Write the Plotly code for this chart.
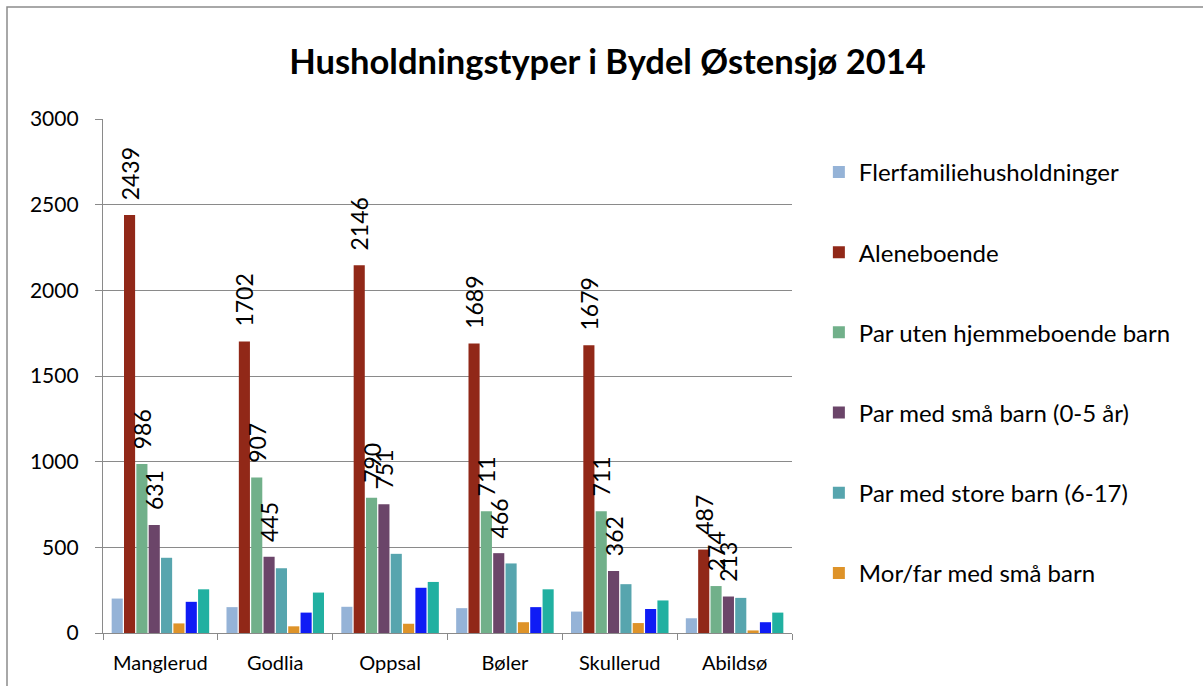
import plotly.graph_objects as go

categories = ["Manglerud", "Godlia", "Oppsal", "Bøler", "Skullerud", "Abildsø"]

series_names = [
    "Flerfamiliehusholdninger",
    "Aleneboende",
    "Par uten hjemmeboende barn",
    "Par med små barn (0-5 år)",
    "Par med store barn (6-17)",
    "Mor/far med små barn",
    "Mor/far med store barn",
    "Andre",
]

flerfamilie = [201, 151, 153, 145, 125, 86]
aleneboende = [2439, 1702, 2146, 1689, 1679, 487]
par_uten = [986, 907, 790, 711, 711, 274]
par_sma = [631, 445, 751, 466, 362, 213]
par_store = [439, 378, 462, 406, 285, 205]
morfar_sma = [56, 39, 54, 63, 58, 15]
morfar_store = [182, 119, 264, 151, 140, 63]
andre = [255, 236, 298, 255, 190, 119]

values = [flerfamilie, aleneboende, par_uten, par_sma, par_store, morfar_sma, morfar_store, andre]
colors = ["#95B3D7", "#912818", "#71B08A", "#6B4569", "#57A5AE", "#DE9329", "#0F1CF5", "#21B0A1"]
labeled = [False, True, True, True, False, False, False, False]
in_legend = [True, True, True, True, True, True, False, False]

font_family = "Lato, 'Open Sans', sans-serif"
grid_col = "#8A8A8A"

fig = go.Figure()
for i, (name, vals, col) in enumerate(zip(series_names, values, colors)):
    fig.add_trace(go.Bar(
        x=categories, y=vals, name=name,
        marker=dict(color=col, line=dict(width=0)),
        text=["\u00a0\u00a0" + str(v) for v in vals] if labeled[i] else None,
        textposition="outside" if labeled[i] else "none",
        textangle=-90,
        textfont=dict(size=23, color="black", family=font_family),
        constraintext="none",
        cliponaxis=False,
        showlegend=in_legend[i],
        legendgroup="g%d" % i,
    ))

fig.update_layout(
    width=1203, height=686,
    paper_bgcolor="white", plot_bgcolor="white",
    margin=dict(l=103, r=411, t=119, b=53),
    barmode="group", bargap=0.14, bargroupgap=0.1,
    font=dict(family=font_family, color="black"),
    title=dict(text="<b>Husholdningstyper i Bydel Østensjø 2014</b>",
               x=0.505, xanchor="center", y=0.91, yanchor="middle",
               font=dict(size=34.5, family=font_family, color="black")),
    legend=dict(x=1.039, y=0.94, xanchor="left", yanchor="top",
                font=dict(size=24, family=font_family, color="black"),
                tracegroupgap=46, itemwidth=30, bgcolor="rgba(0,0,0,0)"),
)

fig.update_yaxes(range=[0, 3000], dtick=500, showgrid=True, gridcolor=grid_col, gridwidth=1.3,
                 showline=True, linecolor=grid_col, linewidth=1.3, ticks="outside", ticklen=7,
                 tickcolor=grid_col, ticklabelstandoff=12,
                 tickfont=dict(size=21, family=font_family), zeroline=False)
fig.update_xaxes(showline=True, linecolor=grid_col, linewidth=1.3, ticks="outside", ticklen=6,
                 tickcolor=grid_col, tickson="boundaries", ticklabelstandoff=12,
                 tickfont=dict(size=20, family=font_family))

fig.add_shape(type="rect", xref="paper", yref="paper",
              x0=(7 - 103) / 689, x1=1.7, y0=-0.2, y1=(633 - 7) / 514,
              line=dict(color="#8C8C8C", width=1.5), fillcolor="rgba(0,0,0,0)", layer="below")

fig.write_html("out.html", config={"displayModeBar": False},
               post_script="document.body.style.margin='0';")
